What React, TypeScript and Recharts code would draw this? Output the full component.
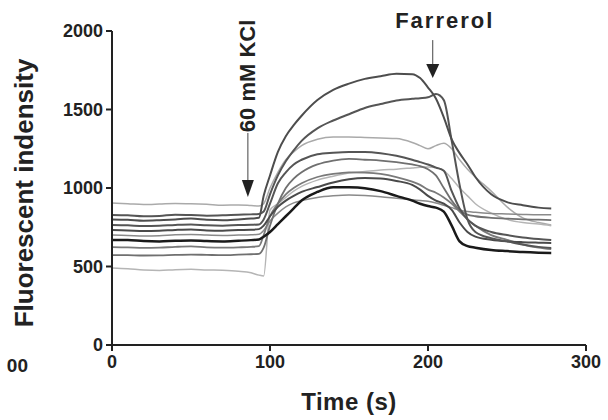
import React from 'react';
import {LineChart, Line, XAxis, YAxis, ReferenceDot} from 'recharts';

// sampling times (s)
const times = [0, 10, 20, 30, 40, 50, 60, 70, 80, 88, 93, 96, 100, 105, 110, 115, 120, 130, 140, 150, 160, 170, 180, 190, 195, 200, 205, 210, 215, 220, 225, 230, 240, 250, 260, 270, 278];

// one array per cell trace
const cell1 = [800, 798, 792, 795, 800, 805, 798, 795, 800, 805, 810, 950, 1080, 1230, 1330, 1400, 1460, 1560, 1625, 1665, 1695, 1712, 1728, 1725, 1700, 1640, 1570, 1450, 1310, 1222, 1150, 1070, 960, 910, 890, 875, 870];
const cell2 = [828, 826, 820, 822, 830, 828, 824, 826, 830, 832, 835, 850, 960, 1080, 1170, 1240, 1300, 1380, 1430, 1470, 1510, 1535, 1558, 1568, 1572, 1578, 1598, 1560, 1300, 1020, 800, 720, 680, 660, 640, 625, 618];
const cell3 = [904, 900, 895, 898, 902, 900, 896, 890, 892, 888, 885, 900, 1000, 1100, 1180, 1230, 1270, 1310, 1325, 1325, 1322, 1318, 1315, 1290, 1270, 1250, 1270, 1285, 1250, 1180, 1120, 1070, 980, 880, 810, 780, 765];
const cell4 = [764, 762, 758, 760, 765, 768, 762, 760, 764, 766, 768, 800, 900, 1030, 1100, 1150, 1180, 1215, 1225, 1230, 1230, 1222, 1205, 1180, 1165, 1150, 1130, 1110, 980, 870, 800, 760, 720, 700, 685, 675, 669];
const cell5 = [490, 485, 478, 475, 480, 482, 478, 476, 470, 460, 445, 440, 860, 900, 940, 980, 1010, 1050, 1075, 1095, 1105, 1115, 1120, 1128, 1132, 1134, 1130, 1110, 1060, 1000, 950, 900, 840, 800, 780, 770, 760];
const cell6 = [732, 730, 726, 728, 733, 736, 730, 728, 732, 734, 738, 760, 820, 880, 920, 950, 975, 1006, 1035, 1055, 1063, 1060, 1045, 1020, 990, 950, 920, 900, 860, 780, 720, 690, 670, 660, 655, 652, 650];
const cell7 = [669, 668, 662, 660, 664, 666, 662, 660, 664, 668, 672, 690, 720, 770, 820, 870, 920, 975, 1005, 1004, 998, 980, 950, 920, 900, 885, 875, 850, 760, 660, 630, 620, 605, 598, 592, 588, 586];
const cell8 = [624, 622, 618, 620, 625, 628, 622, 620, 622, 625, 630, 700, 820, 900, 960, 1000, 1030, 1070, 1090, 1100, 1098, 1090, 1070, 1040, 1020, 990, 970, 940, 900, 850, 800, 760, 700, 670, 640, 620, 610];
const cell9 = [573, 572, 570, 571, 574, 576, 574, 572, 575, 578, 580, 620, 760, 900, 1000, 1060, 1100, 1150, 1175, 1185, 1180, 1175, 1165, 1150, 1140, 1120, 1080, 1000, 920, 860, 830, 820, 810, 805, 800, 798, 796];
const cell10 = [700, 698, 694, 696, 702, 704, 700, 698, 700, 702, 705, 730, 790, 840, 880, 905, 920, 940, 950, 955, 952, 945, 935, 925, 920, 915, 905, 890, 875, 860, 850, 845, 838, 835, 832, 830, 830];

const xTicks = [0, 100, 200, 300];
const yTicks = [0, 500, 1000, 1500, 2000];

// light traces first so the dark ones sit on top
const series = [
    {key: 'cell3', values: cell3, color: '#aaaaaa', width: 1.5},
    {key: 'cell5', values: cell5, color: '#b5b5b5', width: 1.5},
    {key: 'cell10', values: cell10, color: '#8a8a8a', width: 1.5},
    {key: 'cell8', values: cell8, color: '#7a7a7a', width: 1.8},
    {key: 'cell9', values: cell9, color: '#707070', width: 1.8},
    {key: 'cell6', values: cell6, color: '#4a4a4a', width: 2},
    {key: 'cell4', values: cell4, color: '#555555', width: 2},
    {key: 'cell2', values: cell2, color: '#555555', width: 2},
    {key: 'cell1', values: cell1, color: '#4d4d4d', width: 2},
    {key: 'cell7', values: cell7, color: '#1a1a1a', width: 2.5},
];

const data = times.map((t, i) => {
    const row: Record<string, number> = {t};
    series.forEach(s => { row[s.key] = s.values[i]; });
    return row;
});

const font = '"Liberation Sans", Arial, sans-serif';

const KclArrow = (props: any) => {
    const {cx, cy} = props;
    const ty = cy - 121;
    return (
        <g>
            <line x1={cx} y1={cy - 64} x2={cx} y2={cy - 15} stroke="#444" strokeWidth={1}/>
            <path d={`M${cx - 6},${cy - 17} L${cx + 6},${cy - 17} L${cx},${cy} Z`} fill="#222"/>
            <text x={cx} y={ty} transform={`rotate(-90 ${cx} ${ty})`} textAnchor="middle" dominantBaseline="central"
                  fontFamily={font} fontSize={22} fontWeight="bold" fill="#222">60 mM KCl</text>
        </g>
    );
};

const FarrerolArrow = (props: any) => {
    const {cx, cy} = props;
    return (
        <g>
            <line x1={cx} y1={cy - 38} x2={cx} y2={cy - 13} stroke="#444" strokeWidth={1}/>
            <path d={`M${cx - 6.5},${cy - 14} L${cx + 6.5},${cy - 14} L${cx},${cy} Z`} fill="#222"/>
            <text x={cx + 12} y={cy - 50} textAnchor="middle" fontFamily={font} fontSize={22} fontWeight="bold"
                  letterSpacing={2} fill="#222">Farrerol</text>
        </g>
    );
};

const YTitle = (props: any) => {
    const {viewBox} = props;
    const cx = viewBox.x + 24;
    const cy = viewBox.y + viewBox.height / 2 + 5;
    return (
        <g>
            <text x={cx} y={cy} transform={`rotate(-90 ${cx} ${cy})`} textAnchor="middle" dominantBaseline="central"
                  fontFamily={font} fontSize={26} fontWeight="bold" fill="#222">Fluorescent indensity</text>
            {/* leftover tick label of the neighbouring panel */}
            <text x={viewBox.x + 28} y={viewBox.y + viewBox.height + 27} textAnchor="end"
                  fontFamily={font} fontSize={19} fontWeight="bold" fill="#222">00</text>
        </g>
    );
};

const tickStyle = {fontFamily: font, fontSize: 18, fontWeight: 'bold', fill: '#222'};

export default function App() {
    return (
        <div style={{position: 'absolute', left: 0, top: 0, background: '#fff'}}>
            <LineChart width={608} height={420} data={data} margin={{top: 31, right: 22, left: 0, bottom: 0}}>
                <XAxis dataKey="t" type="number" domain={[0, 300]} ticks={xTicks} height={75}
                       axisLine={{stroke: '#222', strokeWidth: 2}} tickLine={{stroke: '#222', strokeWidth: 2}}
                       tickSize={6} tickMargin={4} tick={tickStyle}
                       label={{value: 'Time (s)', position: 'insideBottom', offset: 10, fontFamily: font,
                           fontSize: 24, fontWeight: 'bold', fill: '#222', letterSpacing: 0.5}}/>
                <YAxis type="number" domain={[0, 2000]} ticks={yTicks} width={112}
                       axisLine={{stroke: '#222', strokeWidth: 2}} tickLine={{stroke: '#222', strokeWidth: 2}}
                       tickSize={6} tickMargin={3} tick={tickStyle}
                       label={{content: YTitle}}/>
                {series.map(s => (
                    <Line key={s.key} type="monotone" dataKey={s.key} stroke={s.color} strokeWidth={s.width}
                          dot={false} activeDot={false} isAnimationActive={false}/>
                ))}
                <ReferenceDot x={86} y={943} ifOverflow="visible" shape={KclArrow}/>
                <ReferenceDot x={203} y={1700} ifOverflow="visible" shape={FarrerolArrow}/>
            </LineChart>
        </div>
    );
}
